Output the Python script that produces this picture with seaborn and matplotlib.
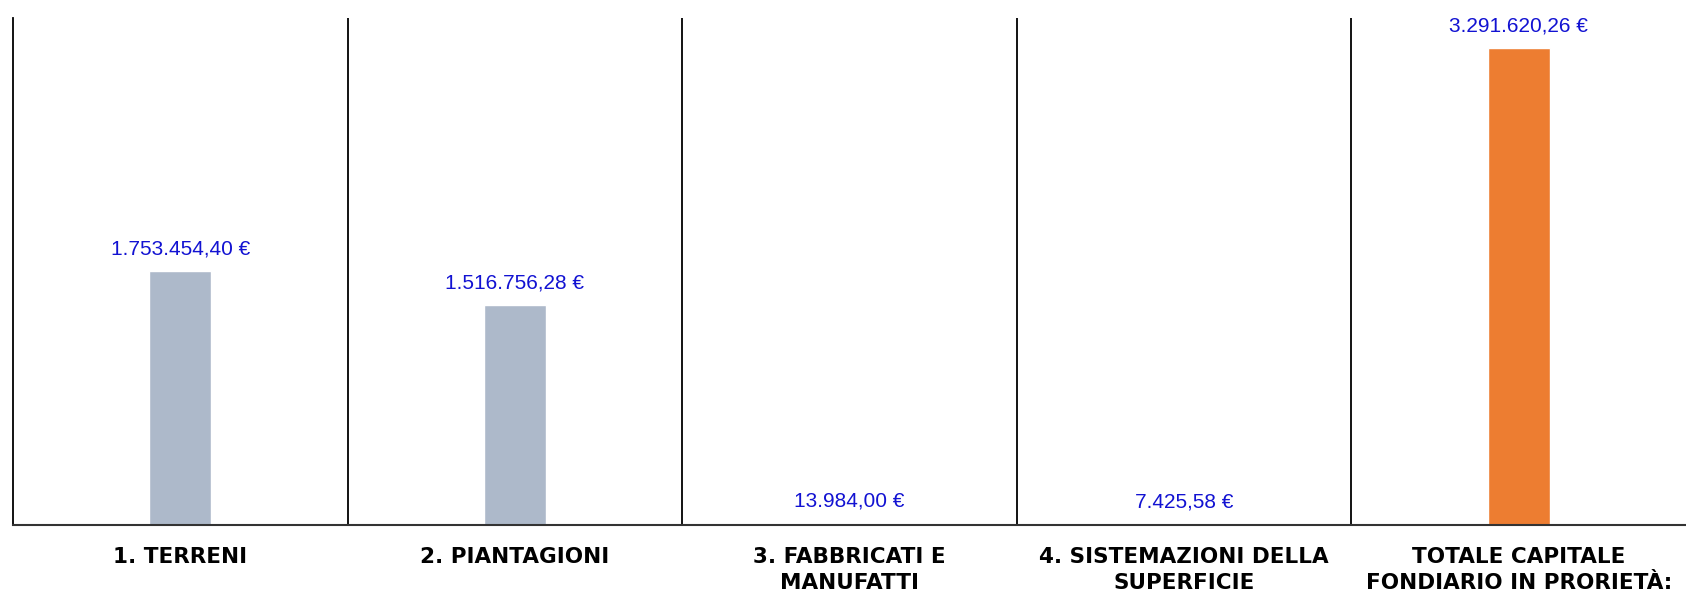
import matplotlib
matplotlib.use("Agg")
import matplotlib.pyplot as plt
import seaborn as sns
import pandas as pd

categories = [
    "1. TERRENI",
    "2. PIANTAGIONI",
    "3. FABBRICATI E\nMANUFATTI",
    "4. SISTEMAZIONI DELLA\nSUPERFICIE",
    "TOTALE CAPITALE\nFONDIARIO IN PRORIETÀ:",
]
values = [1753454.40, 1516756.28, 13984.00, 7425.58, 3291620.26]
bar_colors = ["#ADB9CA", "#ADB9CA", "#ADB9CA", "#ADB9CA", "#ED7D31"]

sns.set_style("white")
plt.rcParams["font.family"] = ["Liberation Sans", "DejaVu Sans"]

df = pd.DataFrame({"cat": categories, "val": values})

fig = plt.figure(figsize=(16.86, 5.97), dpi=100)
ax = fig.add_axes([13 / 1686, 1 - 525 / 597, 1 - 13 / 1686, (525 - 18) / 597])

sns.barplot(data=df, x="cat", y="val", hue="cat", palette=bar_colors,
            width=0.185, legend=False, ax=ax, saturation=1)

ax.set_xlim(-0.5, len(categories) - 0.5)
ax.set_ylim(0, 3.5e6)


def fmt_eur(v):
    s = f"{v:,.2f}".replace(",", "X").replace(".", ",").replace("X", ".")
    return s + " €"


for cont in ax.containers:
    ax.bar_label(cont, labels=[fmt_eur(b.get_height()) for b in cont],
                 padding=9, color="#1212D2", fontsize=15)

for i in range(len(categories) - 1):
    ax.axvline(i + 0.5, color="black", lw=1.3)

for side in ["top", "right"]:
    ax.spines[side].set_visible(False)
ax.spines["left"].set_color("black")
ax.spines["left"].set_linewidth(1.3)
ax.spines["bottom"].set_color("#333333")
ax.spines["bottom"].set_linewidth(1.5)

ax.set_yticks([])
ax.set_xlabel("")
ax.set_ylabel("")
ax.tick_params(axis="x", length=0, pad=16)
ax.set_xticks(range(len(categories)))
ax.set_xticklabels(categories, fontsize=15.5, fontweight="bold",
                   family=["DejaVu Sans"], color="black",
                   linespacing=1.36)

fig.savefig("out.png", dpi=100)
